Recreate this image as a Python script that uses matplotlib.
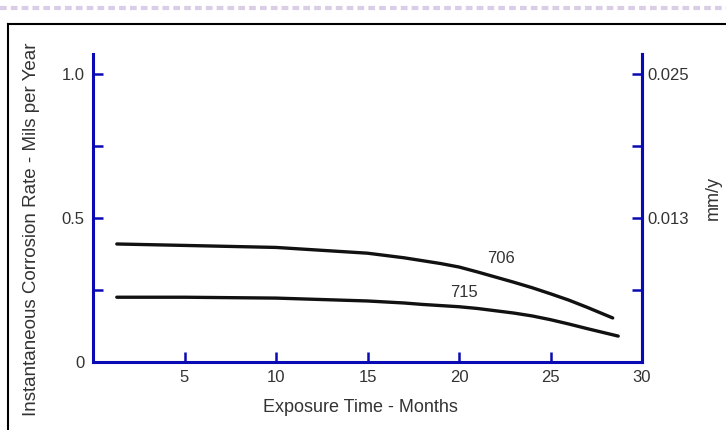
import numpy as np
import matplotlib.pyplot as plt
from matplotlib.lines import Line2D

plt.rcParams['font.family'] = ['Liberation Sans', 'DejaVu Sans']

# ==================== DADOS ====================
meses_706 = [1.3, 5, 10, 15, 17, 18, 19, 20, 21, 22, 23, 24, 25, 26, 27, 28.4]
taxa_706 = [0.41, 0.405, 0.398, 0.378, 0.362, 0.352, 0.342, 0.330, 0.313, 0.295,
            0.277, 0.258, 0.237, 0.215, 0.190, 0.153]

meses_715 = [1.3, 5, 10, 15, 17, 18, 19, 20, 21, 22, 23, 24, 25, 26, 27, 28.7]
taxa_715 = [0.225, 0.225, 0.222, 0.212, 0.205, 0.200, 0.196, 0.192, 0.186, 0.178,
            0.170, 0.160, 0.147, 0.132, 0.116, 0.09]

xticks = [5, 10, 15, 20, 25, 30]
yticks = [0, 0.25, 0.5, 0.75, 1.0]
ylabels = ['0', '', '0.5', '', '1.0']
mm_labels = ['', '0.013', '', '0.025']
MIL_PARA_MM = 0.0254
# ===============================================

azul = '#0a0ab4'
cinza = '#333333'

fig = plt.figure(figsize=(7.26, 4.30), dpi=100)
ax = fig.add_axes([93 / 726, 1 - 362 / 430, 549 / 726, 308 / 430])

ax.plot(meses_706, taxa_706, color='#111111', lw=2.4, solid_capstyle='round')
ax.plot(meses_715, taxa_715, color='#111111', lw=2.4, solid_capstyle='round')
ax.text(22.3, 0.36, '706', fontsize=12, color=cinza, ha='center', va='center')
ax.text(20.3, 0.24, '715', fontsize=12, color=cinza, ha='center', va='center')

ax.set_xlim(0, 30)
ax.set_ylim(0, 1.07)
ax.set_xticks(xticks)
ax.set_xticklabels([str(t) for t in xticks])
ax.set_yticks(yticks)
ax.set_yticklabels(ylabels)

for lado in ['left', 'bottom', 'right']:
    ax.spines[lado].set_color(azul)
    ax.spines[lado].set_linewidth(2.2)
ax.spines['top'].set_visible(False)
ax.tick_params(direction='in', length=7.5, width=1.8, color=azul,
               labelcolor=cinza, labelsize=12, pad=6)

# eixo da direita em mm/y
ax2 = ax.twinx()
ax2.set_ylim(0, 1.07 * MIL_PARA_MM)
ax2.set_yticks([t * MIL_PARA_MM for t in yticks[1:]])
ax2.set_yticklabels(mm_labels)
ax2.spines['top'].set_visible(False)
ax2.spines['left'].set_visible(False)
ax2.spines['bottom'].set_visible(False)
ax2.spines['right'].set_color(azul)
ax2.spines['right'].set_linewidth(2.2)
ax2.tick_params(direction='in', length=7.5, width=1.8, color=azul,
                labelcolor=cinza, labelsize=12, pad=4)

# textos dos eixos
fig.text(32 / 726, 1 - 229 / 430, 'Instantaneous Corrosion Rate - Mils per Year',
         rotation=90, ha='center', va='center', fontsize=13.5, color=cinza)
fig.text(360 / 726, 1 - 408 / 430, 'Exposure Time - Months',
         ha='center', va='center', fontsize=13, color=cinza)
fig.text(713 / 726, 1 - 198 / 430, 'mm/y', rotation=90,
         ha='center', va='center', fontsize=13, color=cinza)

# moldura da página
fig.add_artist(Line2D([8 / 726, 8 / 726], [0, 1 - 24 / 430], color='black', lw=1.5))
fig.add_artist(Line2D([8 / 726, 1], [1 - 24 / 430, 1 - 24 / 430], color='black', lw=1.5))
fig.add_artist(Line2D([0, 1], [1 - 8 / 430, 1 - 8 / 430], color='#d9cde8', lw=3,
                      linestyle=(0, (1.6, 1.0))))

fig.savefig('out.png', dpi=100)
